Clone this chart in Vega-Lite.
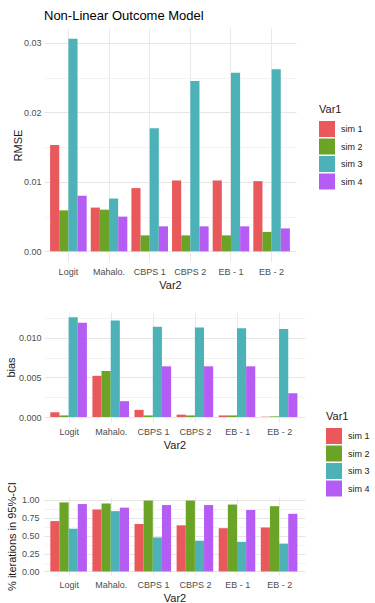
{
  "$schema": "https://vega.github.io/schema/vega-lite/v6.json",
  "background": "white",
  "padding": {"left": 5, "top": 10, "right": 5, "bottom": 5},
  "datasets": {
    "rmse": [
      {"Var2": "Logit", "Var1": "sim 1", "value": 0.0153},
      {"Var2": "Logit", "Var1": "sim 2", "value": 0.0059},
      {"Var2": "Logit", "Var1": "sim 3", "value": 0.0306},
      {"Var2": "Logit", "Var1": "sim 4", "value": 0.0080},
      {"Var2": "Mahalo.", "Var1": "sim 1", "value": 0.0063},
      {"Var2": "Mahalo.", "Var1": "sim 2", "value": 0.0060},
      {"Var2": "Mahalo.", "Var1": "sim 3", "value": 0.0076},
      {"Var2": "Mahalo.", "Var1": "sim 4", "value": 0.0050},
      {"Var2": "CBPS 1", "Var1": "sim 1", "value": 0.0091},
      {"Var2": "CBPS 1", "Var1": "sim 2", "value": 0.0023},
      {"Var2": "CBPS 1", "Var1": "sim 3", "value": 0.0177},
      {"Var2": "CBPS 1", "Var1": "sim 4", "value": 0.0036},
      {"Var2": "CBPS 2", "Var1": "sim 1", "value": 0.0102},
      {"Var2": "CBPS 2", "Var1": "sim 2", "value": 0.0023},
      {"Var2": "CBPS 2", "Var1": "sim 3", "value": 0.0245},
      {"Var2": "CBPS 2", "Var1": "sim 4", "value": 0.0036},
      {"Var2": "EB - 1", "Var1": "sim 1", "value": 0.0102},
      {"Var2": "EB - 1", "Var1": "sim 2", "value": 0.0023},
      {"Var2": "EB - 1", "Var1": "sim 3", "value": 0.0257},
      {"Var2": "EB - 1", "Var1": "sim 4", "value": 0.0036},
      {"Var2": "EB - 2", "Var1": "sim 1", "value": 0.0101},
      {"Var2": "EB - 2", "Var1": "sim 2", "value": 0.0028},
      {"Var2": "EB - 2", "Var1": "sim 3", "value": 0.0262},
      {"Var2": "EB - 2", "Var1": "sim 4", "value": 0.0033}
    ],
    "bias": [
      {"Var2": "Logit", "Var1": "sim 1", "value": 0.0006},
      {"Var2": "Logit", "Var1": "sim 2", "value": 0.0002},
      {"Var2": "Logit", "Var1": "sim 3", "value": 0.0126},
      {"Var2": "Logit", "Var1": "sim 4", "value": 0.0119},
      {"Var2": "Mahalo.", "Var1": "sim 1", "value": 0.0052},
      {"Var2": "Mahalo.", "Var1": "sim 2", "value": 0.0058},
      {"Var2": "Mahalo.", "Var1": "sim 3", "value": 0.0122},
      {"Var2": "Mahalo.", "Var1": "sim 4", "value": 0.0020},
      {"Var2": "CBPS 1", "Var1": "sim 1", "value": 0.0009},
      {"Var2": "CBPS 1", "Var1": "sim 2", "value": 0.0002},
      {"Var2": "CBPS 1", "Var1": "sim 3", "value": 0.0114},
      {"Var2": "CBPS 1", "Var1": "sim 4", "value": 0.0064},
      {"Var2": "CBPS 2", "Var1": "sim 1", "value": 0.0003},
      {"Var2": "CBPS 2", "Var1": "sim 2", "value": 0.0002},
      {"Var2": "CBPS 2", "Var1": "sim 3", "value": 0.0113},
      {"Var2": "CBPS 2", "Var1": "sim 4", "value": 0.0064},
      {"Var2": "EB - 1", "Var1": "sim 1", "value": 0.0002},
      {"Var2": "EB - 1", "Var1": "sim 2", "value": 0.0002},
      {"Var2": "EB - 1", "Var1": "sim 3", "value": 0.0112},
      {"Var2": "EB - 1", "Var1": "sim 4", "value": 0.0064},
      {"Var2": "EB - 2", "Var1": "sim 1", "value": 0.00004},
      {"Var2": "EB - 2", "Var1": "sim 2", "value": 0.00008},
      {"Var2": "EB - 2", "Var1": "sim 3", "value": 0.0111},
      {"Var2": "EB - 2", "Var1": "sim 4", "value": 0.0030}
    ],
    "ci": [
      {"Var2": "Logit", "Var1": "sim 1", "value": 0.703},
      {"Var2": "Logit", "Var1": "sim 2", "value": 0.964},
      {"Var2": "Logit", "Var1": "sim 3", "value": 0.597},
      {"Var2": "Logit", "Var1": "sim 4", "value": 0.941},
      {"Var2": "Mahalo.", "Var1": "sim 1", "value": 0.865},
      {"Var2": "Mahalo.", "Var1": "sim 2", "value": 0.950},
      {"Var2": "Mahalo.", "Var1": "sim 3", "value": 0.842},
      {"Var2": "Mahalo.", "Var1": "sim 4", "value": 0.891},
      {"Var2": "CBPS 1", "Var1": "sim 1", "value": 0.663},
      {"Var2": "CBPS 1", "Var1": "sim 2", "value": 0.990},
      {"Var2": "CBPS 1", "Var1": "sim 3", "value": 0.475},
      {"Var2": "CBPS 1", "Var1": "sim 4", "value": 0.927},
      {"Var2": "CBPS 2", "Var1": "sim 1", "value": 0.644},
      {"Var2": "CBPS 2", "Var1": "sim 2", "value": 0.990},
      {"Var2": "CBPS 2", "Var1": "sim 3", "value": 0.429},
      {"Var2": "CBPS 2", "Var1": "sim 4", "value": 0.927},
      {"Var2": "EB - 1", "Var1": "sim 1", "value": 0.604},
      {"Var2": "EB - 1", "Var1": "sim 2", "value": 0.934},
      {"Var2": "EB - 1", "Var1": "sim 3", "value": 0.413},
      {"Var2": "EB - 1", "Var1": "sim 4", "value": 0.858},
      {"Var2": "EB - 2", "Var1": "sim 1", "value": 0.614},
      {"Var2": "EB - 2", "Var1": "sim 2", "value": 0.911},
      {"Var2": "EB - 2", "Var1": "sim 3", "value": 0.389},
      {"Var2": "EB - 2", "Var1": "sim 4", "value": 0.805}
    ]
  },
  "config": {
    "font": "Liberation Sans",
    "view": {"stroke": null},
    "axis": {
      "labelFont": "Liberation Sans", "labelFontSize": 9, "labelColor": "#4d4d4d",
      "titleFont": "Liberation Sans", "titleFontSize": 11, "titleFontWeight": "normal", "titleColor": "#1a1a1a",
      "domain": false, "ticks": false, "tickSize": 0, "gridColor": "#e9e9e9", "gridWidth": 1
    },
    "axisX": {"labelPadding": 5, "titlePadding": 3, "labelAngle": 0, "grid": true, "bandPosition": 0.5},
    "axisY": {"labelPadding": 3},
    "legend": {
      "titleFont": "Liberation Sans", "titleFontSize": 11, "titleFontWeight": "normal", "titleColor": "#1a1a1a",
      "labelFont": "Liberation Sans", "labelFontSize": 9, "labelColor": "#1a1a1a",
      "symbolType": "square", "symbolSize": 256, "symbolStrokeWidth": 0, "symbolOpacity": 1,
      "rowPadding": 1.5, "titlePadding": 6, "labelOffset": 6
    },
    "title": {"font": "Liberation Sans", "fontSize": 13, "fontWeight": "normal", "color": "#000000"}
  },
  "spacing": 22,
  "bounds": "full",
  "resolve": {"scale": {"color": "independent"}},
  "vconcat": [
    {
      "width": 252,
      "height": 234,
      "title": {"text": "Non-Linear Outcome Model", "anchor": "start", "frame": "group", "offset": 5},
      "data": {"name": "rmse"},
      "mark": {"type": "bar"},
      "encoding": {
        "x": {"field": "Var2", "type": "nominal", "sort": ["Logit", "Mahalo.", "CBPS 1", "CBPS 2", "EB - 1", "EB - 2"],
              "scale": {"paddingInner": 0.1, "paddingOuter": 0.15}, "axis": {"title": "Var2"}},
        "xOffset": {"field": "Var1", "type": "nominal", "scale": {"paddingInner": 0, "paddingOuter": 0}},
        "y": {"field": "value", "type": "quantitative", "stack": null,
              "scale": {"domain": [-0.00153, 0.03213], "nice": false, "zero": false},
              "axis": {"title": "RMSE", "titlePadding": 0, "format": ".2f",
                       "values": [0, 0.005, 0.01, 0.015, 0.02, 0.025, 0.03],
                       "labelExpr": "indexof([0.005, 0.015, 0.025], datum.value) >= 0 ? '' : datum.label",
                       "gridColor": {"condition": {"test": "indexof([0.005, 0.015, 0.025], datum.value) >= 0", "value": "#f3f3f3"}, "value": "#e6e6e6"}}},
        "y2": {"datum": 0},
        "color": {"field": "Var1", "type": "nominal",
                  "scale": {"domain": ["sim 1", "sim 2", "sim 3", "sim 4"], "range": ["#E9595B", "#6BA326", "#4CB2B7", "#B55CF4"]},
                  "legend": {"title": "Var1", "orient": "none", "legendX": 275, "legendY": 76}}
      }
    },
    {
      "spacing": -52,
      "bounds": "full",
      "resolve": {"scale": {"color": "independent"}},
      "vconcat": [
        {
          "width": 261,
          "height": 110,
          "data": {"name": "bias"},
          "mark": {"type": "bar"},
          "encoding": {
            "x": {"field": "Var2", "type": "nominal", "sort": ["Logit", "Mahalo.", "CBPS 1", "CBPS 2", "EB - 1", "EB - 2"],
                  "scale": {"paddingInner": 0.1, "paddingOuter": 0.15}, "axis": {"title": "Var2"}},
            "xOffset": {"field": "Var1", "type": "nominal", "scale": {"paddingInner": 0, "paddingOuter": 0}},
            "y": {"field": "value", "type": "quantitative", "stack": null,
                  "scale": {"domain": [-0.00063, 0.01326], "nice": false, "zero": false},
                  "axis": {"title": "bias", "titlePadding": 2, "format": ".3f",
                           "values": [0, 0.0025, 0.005, 0.0075, 0.01, 0.0125],
                           "labelExpr": "indexof([0.0025, 0.0075, 0.0125], datum.value) >= 0 ? '' : datum.label",
                           "gridColor": {"condition": {"test": "indexof([0.0025, 0.0075, 0.0125], datum.value) >= 0", "value": "#f3f3f3"}, "value": "#e6e6e6"}}},
            "y2": {"datum": 0},
            "color": {"field": "Var1", "type": "nominal",
                      "scale": {"domain": ["sim 1", "sim 2", "sim 3", "sim 4"], "range": ["#E9595B", "#6BA326", "#4CB2B7", "#B55CF4"]},
                      "legend": {"title": "Var1", "orient": "none", "legendX": 282, "legendY": 99}}
          }
        },
        {
          "width": 261,
          "height": 78,
          "data": {"name": "ci"},
          "mark": {"type": "bar"},
          "encoding": {
            "x": {"field": "Var2", "type": "nominal", "sort": ["Logit", "Mahalo.", "CBPS 1", "CBPS 2", "EB - 1", "EB - 2"],
                  "scale": {"paddingInner": 0.1, "paddingOuter": 0.15}, "axis": {"title": "Var2"}},
            "xOffset": {"field": "Var1", "type": "nominal", "scale": {"paddingInner": 0, "paddingOuter": 0}},
            "y": {"field": "value", "type": "quantitative", "stack": null,
                  "scale": {"domain": [-0.0495, 1.0395], "nice": false, "zero": false},
                  "axis": {"title": "% iterations in 95%-CI", "titlePadding": 4, "labelPadding": 5, "format": ".2f",
                           "values": [0, 0.125, 0.25, 0.375, 0.5, 0.625, 0.75, 0.875, 1],
                           "labelExpr": "indexof([0.125, 0.375, 0.625, 0.875], datum.value) >= 0 ? '' : datum.label",
                           "gridColor": {"condition": {"test": "indexof([0.125, 0.375, 0.625, 0.875], datum.value) >= 0", "value": "#f3f3f3"}, "value": "#e6e6e6"}}},
            "y2": {"datum": 0},
            "color": {"field": "Var1", "type": "nominal",
                      "scale": {"domain": ["sim 1", "sim 2", "sim 3", "sim 4"], "range": ["#E9595B", "#6BA326", "#4CB2B7", "#B55CF4"]},
                      "legend": null}
          }
        }
      ]
    }
  ]
}
